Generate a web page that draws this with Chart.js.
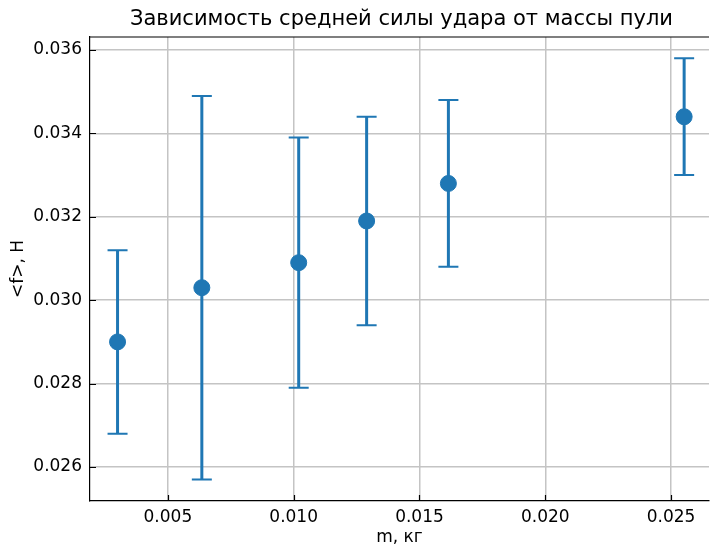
<!DOCTYPE html>
<html>
<head>
<meta charset="utf-8">
<script src="https://cdn.jsdelivr.net/npm/chart.js@4/dist/chart.umd.min.js"></script>
<style>
    html, body { margin: 0; padding: 0; background: #fff; overflow: hidden; }
    #wrap { width: 710px; height: 546px; overflow: hidden; }
</style>
</head>
<body>
<div id="wrap"><canvas id="chart" width="718" height="546"></canvas></div>
<script>
    'use strict';

    // mass of bullet, kg
    var masses = [0.003, 0.00635, 0.0102, 0.0129, 0.01615, 0.02552];
    // mean impact force, N
    var forces = [0.0290, 0.0303, 0.0309, 0.0319, 0.0328, 0.0344];
    // half-width of the error bar, N
    var errors = [0.0022, 0.0046, 0.0030, 0.0025, 0.0020, 0.0014];

    var xTicks = [0.005, 0.010, 0.015, 0.020, 0.025];
    var yTicks = [0.026, 0.028, 0.030, 0.032, 0.034, 0.036];

    var title = 'Зависимость средней силы удара от массы пули';
    var blue = '#1f77b4';
    var font = 'DejaVu Sans';

    /**
     * Error bars behind the markers, plus title, top spine and inward ticks.
     */
    var errorBars = {
        id: 'errorBars',
        beforeDatasetsDraw: function (chart) {
            var ctx = chart.ctx;
            var xs = chart.scales.x;
            var ys = chart.scales.y;

            ctx.save();
            ctx.strokeStyle = blue;
            masses.forEach(function (m, i) {
                var px = xs.getPixelForValue(m);
                var top = ys.getPixelForValue(forces[i] + errors[i]);
                var bottom = ys.getPixelForValue(forces[i] - errors[i]);

                ctx.lineWidth = 3;
                ctx.beginPath();
                ctx.moveTo(px, top);
                ctx.lineTo(px, bottom);
                ctx.stroke();

                ctx.lineWidth = 2;
                ctx.beginPath();
                ctx.moveTo(px - 10, top);
                ctx.lineTo(px + 10, top);
                ctx.moveTo(px - 10, bottom);
                ctx.lineTo(px + 10, bottom);
                ctx.stroke();
            });
            ctx.restore();
        },
        afterDraw: function (chart) {
            var ctx = chart.ctx;
            var area = chart.chartArea;
            var xs = chart.scales.x;
            var ys = chart.scales.y;

            ctx.save();
            ctx.fillStyle = '#000';
            ctx.font = '21px "' + font + '"';
            ctx.textAlign = 'center';
            ctx.textBaseline = 'middle';
            ctx.fillText(title, (area.left + area.right) / 2 + 2, 20);

            ctx.strokeStyle = '#000';
            ctx.lineWidth = 1.2;
            ctx.beginPath();
            ctx.moveTo(area.left, area.top);
            ctx.lineTo(area.right, area.top);
            ctx.stroke();

            ctx.lineWidth = 1.2;
            ctx.beginPath();
            xTicks.forEach(function (v) {
                var px = Math.round(xs.getPixelForValue(v)) + 0.5;
                ctx.moveTo(px, area.bottom);
                ctx.lineTo(px, area.bottom - 6);
            });
            yTicks.forEach(function (v) {
                var py = Math.round(ys.getPixelForValue(v)) + 0.5;
                ctx.moveTo(area.left, py);
                ctx.lineTo(area.left + 6, py);
            });
            ctx.stroke();
            ctx.restore();
        }
    };

    var points = masses.map(function (m, i) {
        return {x: m, y: forces[i]};
    });

    new Chart(document.getElementById('chart'), {
        type: 'scatter',
        data: {
            datasets: [{
                data: points,
                backgroundColor: blue,
                borderColor: blue,
                pointRadius: 8,
                pointHoverRadius: 8
            }]
        },
        options: {
            responsive: false,
            animation: false,
            events: [],
            layout: {padding: {left: 0, right: 0, top: 37, bottom: 0}},
            plugins: {
                legend: {display: false},
                tooltip: {enabled: false},
                title: {display: false}
            },
            scales: {
                x: {
                    type: 'linear',
                    min: 0.001905,
                    max: 0.026508,
                    afterBuildTicks: function (axis) {
                        axis.ticks = xTicks.map(function (v) { return {value: v}; });
                    },
                    afterFit: function (axis) {
                        axis.height = 45;
                    },
                    ticks: {
                        color: '#000',
                        font: {family: font, size: 17},
                        padding: 6,
                        maxRotation: 0,
                        callback: function (v) { return v.toFixed(3); }
                    },
                    grid: {color: '#c4c4c4', lineWidth: 1.5, drawTicks: false},
                    border: {color: '#000', width: 1.2},
                    title: {
                        display: true,
                        text: 'm, кг',
                        color: '#000',
                        font: {family: font, size: 17},
                        padding: {top: 0, bottom: -2}
                    }
                },
                y: {
                    type: 'linear',
                    min: 0.025185,
                    max: 0.036312,
                    afterBuildTicks: function (axis) {
                        axis.ticks = yTicks.map(function (v) { return {value: v}; });
                    },
                    afterFit: function (axis) {
                        axis.width = 90;
                    },
                    ticks: {
                        color: '#000',
                        font: {family: font, size: 17},
                        padding: 8,
                        callback: function (v) { return v.toFixed(3); }
                    },
                    grid: {color: '#c4c4c4', lineWidth: 1.5, drawTicks: false},
                    border: {color: '#000', width: 1.2},
                    title: {
                        display: true,
                        text: '<f>, Н',
                        color: '#000',
                        font: {family: font, size: 17},
                        padding: {top: 8, bottom: 0}
                    }
                }
            }
        },
        plugins: [errorBars]
    });
</script>
</body>
</html>
